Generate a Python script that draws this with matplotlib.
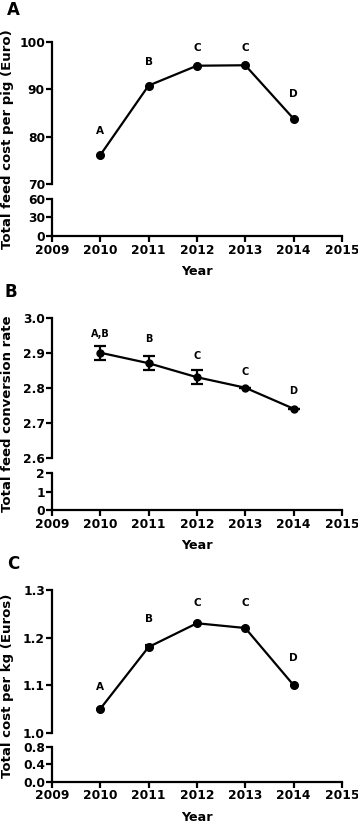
import matplotlib
matplotlib.use("Agg")
import matplotlib.pyplot as plt
import numpy as np

plt.rcParams['font.family'] = ['DejaVu Sans']
plt.rcParams['font.weight'] = 'bold'

years = [2010, 2011, 2012, 2013, 2014]

# Panel A
cost_pig = [76.1, 90.8, 95.0, 95.1, 83.8]
cost_pig_letters = ['A', 'B', 'C', 'C', 'D']
cost_pig_letter_y = [81.3, 95.8, 98.7, 98.7, 89.0]

# Panel B
fcr = [2.90, 2.87, 2.83, 2.80, 2.74]
fcr_err = [0.02, 0.02, 0.02, 0.0, 0.0]
fcr_letters = ['A,B', 'B', 'C', 'C', 'D']
fcr_letter_y = [2.953, 2.94, 2.89, 2.844, 2.79]

# Panel C
cost_kg = [1.05, 1.18, 1.23, 1.22, 1.10]
cost_kg_err = [0.0, 0.005, 0.0, 0.0, 0.0]
cost_kg_letters = ['A', 'B', 'C', 'C', 'D']
cost_kg_letter_y = [1.097, 1.24, 1.272, 1.272, 1.156]

x_ticks = [2009, 2010, 2011, 2012, 2013, 2014, 2015]

fig = plt.figure(figsize=(3.58, 8.25), dpi=100)

LW = 1.6
TICKFS = 8.8

def style_upper(ax, ylim, yticks, yticklabels):
    ax.set_xlim(2009, 2015)
    ax.set_ylim(*ylim)
    ax.set_yticks(yticks)
    ax.set_yticklabels(yticklabels, fontsize=TICKFS, fontweight='bold')
    for s in ['top', 'right', 'bottom']:
        ax.spines[s].set_visible(False)
    ax.spines['left'].set_linewidth(LW)
    ax.tick_params(axis='y', direction='out', length=4, width=LW, pad=1)
    ax.tick_params(axis='x', bottom=False, labelbottom=False)
    ax.patch.set_alpha(0)

def style_lower(ax, ylim, yticks, yticklabels):
    ax.set_xlim(2009, 2015)
    ax.set_ylim(*ylim)
    ax.set_yticks(yticks)
    ax.set_yticklabels(yticklabels, fontsize=TICKFS, fontweight='bold')
    ax.set_xticks(x_ticks)
    ax.set_xticklabels([str(t) for t in x_ticks], fontsize=TICKFS, fontweight='bold')
    for s in ['top', 'right']:
        ax.spines[s].set_visible(False)
    ax.spines['left'].set_linewidth(LW)
    ax.spines['bottom'].set_linewidth(LW)
    ax.tick_params(axis='both', direction='out', length=4, width=LW, pad=1.5)
    ax.tick_params(axis='y', pad=1)
    ax.set_xlabel('Year', fontsize=9.2, fontweight='bold', labelpad=6)
    ax.patch.set_alpha(0)

L, W = 0.145, 0.81

# ---- Panel A
axA = fig.add_axes([L, 0.777, W, 0.172])
axA2 = fig.add_axes([L, 0.714, W, 0.045])
axA.plot(years, cost_pig, color='black', lw=LW, marker='o', ms=5.5, clip_on=False)
for x, t, y in zip(years, cost_pig_letters, cost_pig_letter_y):
    axA.text(x, y, t, ha='center', va='center', fontsize=7.5, fontweight='bold')
style_upper(axA, (70, 100), [70, 80, 90, 100], ['70', '80', '90', '100'])
style_lower(axA2, (0, 60), [0, 30, 60], ['0', '30', '60'])
fig.text(0.022, 1 - 139 / 825, 'Total feed cost per pig (Euro)', rotation=90,
         ha='center', va='center', fontsize=9.5, fontweight='bold')
fig.text(7 / 358, 1 - 1 / 825, 'A', fontsize=12, fontweight='bold', ha='left', va='top')

# ---- Panel B
axB = fig.add_axes([L, 0.4452, W, 0.1697])
axB2 = fig.add_axes([L, 0.3818, W, 0.0445])
axB.errorbar(years, fcr, yerr=fcr_err, color='black', lw=LW, marker='o', ms=5,
             capsize=4, capthick=LW, elinewidth=LW, clip_on=False)
for x, t, y in zip(years, fcr_letters, fcr_letter_y):
    axB.text(x, y, t, ha='center', va='center', fontsize=7, fontweight='bold')
style_upper(axB, (2.6, 3.0), [2.6, 2.7, 2.8, 2.9, 3.0], ['2.6', '2.7', '2.8', '2.9', '3.0'])
style_lower(axB2, (0, 2), [0, 1, 2], ['0', '1', '2'])
fig.text(0.022, 1 - 414 / 825, 'Total feed conversion rate', rotation=90,
         ha='center', va='center', fontsize=9.5, fontweight='bold')
fig.text(5 / 358, 1 - 283 / 825, 'B', fontsize=12, fontweight='bold', ha='left', va='top')

# ---- Panel C
axC = fig.add_axes([L, 0.1119, W, 0.173])
axC2 = fig.add_axes([L, 0.0525, W, 0.0424])
axC.errorbar(years, cost_kg, yerr=cost_kg_err, color='black', lw=LW, marker='o', ms=5.5,
             capsize=3, capthick=LW, elinewidth=LW, clip_on=False)
for x, t, y in zip(years, cost_kg_letters, cost_kg_letter_y):
    axC.text(x, y, t, ha='center', va='center', fontsize=7.5, fontweight='bold')
style_upper(axC, (1.0, 1.3), [1.0, 1.1, 1.2, 1.3], ['1.0', '1.1', '1.2', '1.3'])
style_lower(axC2, (0.0, 0.8), [0.0, 0.4, 0.8], ['0.0', '0.4', '0.8'])
fig.text(0.022, 1 - 686 / 825, 'Total cost per kg (Euros)', rotation=90,
         ha='center', va='center', fontsize=9.5, fontweight='bold')
fig.text(7 / 358, 1 - 555 / 825, 'C', fontsize=12, fontweight='bold', ha='left', va='top')

fig.savefig('out.png', dpi=100)
